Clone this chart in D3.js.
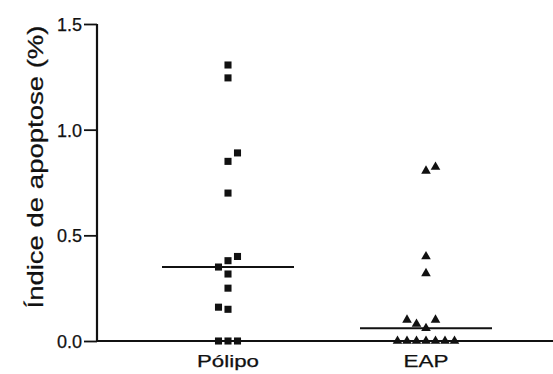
<!DOCTYPE html>
<html>
<head>
<meta charset="utf-8">
<script src="https://cdn.jsdelivr.net/npm/d3@7"></script>
<style>
  body { margin: 0; background: #fff; }
  text { font-family: "Liberation Sans", Arial, sans-serif; fill: #111; stroke: #111; stroke-width: 0.25px; }
</style>
</head>
<body>
<div id="chart"></div>
<script>
// data
const groups = ["Pólipo", "EAP"];
const poliposValues = [1.306, 1.245, 0.89, 0.85, 0.70, 0.40, 0.38, 0.35, 0.317, 0.25, 0.16, 0.15, 0, 0, 0];
const poliposSlots  = [0, 0, 1, 0, 0, 1, 0, -1, 0, 0, -1, 0, -1, 0, 1];
const eapValues = [0.823, 0.805, 0.40, 0.32, 0.10, 0.10, 0.08, 0.06, 0, 0, 0, 0, 0, 0, 0];
const eapSlots  = [1, 0, 0, 0, -2, 1, -1, 0, -3, -2, -1, 0, 1, 2, 3];
const medians = [0.35, 0.06];
const yTicks = [0, 0.5, 1.0, 1.5];

const width = 553, height = 374;
const margin = { top: 24, right: 0, bottom: 33, left: 97 };

const svg = d3.select('#chart').append('svg')
    .attr('width', width)
    .attr('height', height);

const y = d3.scaleLinear()
    .domain([0, 1.5])
    .range([height - margin.bottom, margin.top]);

const x = d3.scalePoint()
    .domain(groups)
    .range([228, 426]);

const slotGap = 9.5;

// Axes
const yAxis = svg.append('g')
    .attr('transform', `translate(${margin.left},0)`)
    .call(d3.axisLeft(y).tickValues(yTicks).tickFormat(d3.format('.1f')).tickSize(13).tickPadding(2));
yAxis.select('.domain').attr('stroke', '#111').attr('stroke-width', 2.2).attr('d', `M0,${y(1.5)}V${y(0)}`);
yAxis.selectAll('.tick line').attr('stroke', '#111').attr('stroke-width', 1.8);
yAxis.selectAll('.tick text')
    .style('font-size', '18px')
    .attr('dy', '0.36em')
    .style('font-family', '"Liberation Sans", Arial, sans-serif')
    .attr('fill', '#111');

svg.append('line')
    .attr('x1', margin.left).attr('x2', width)
    .attr('y1', y(0)).attr('y2', y(0))
    .attr('stroke', '#111').attr('stroke-width', 2.2);

// Category labels
svg.selectAll('.cat-label')
    .data(groups)
    .join('text')
    .attr('class', 'cat-label')
    .attr('x', d => x(d))
    .attr('y', 367)
    .attr('text-anchor', 'middle')
    .style('font-size', '17px')
    .attr('textLength', d => d === 'EAP' ? 45 : 62)
    .attr('lengthAdjust', 'spacingAndGlyphs')
    .text(d => d);

// Y title
svg.append('text')
    .attr('transform', `translate(43,${(24 + 310) / 2}) rotate(-90)`)
    .attr('text-anchor', 'middle')
    .style('font-size', '22px')
    .attr('textLength', 283)
    .attr('lengthAdjust', 'spacingAndGlyphs')
    .text('Índice de apoptose (%)');

// Medians
svg.selectAll('.median')
    .data(groups)
    .join('line')
    .attr('class', 'median')
    .attr('x1', d => x(d) - 66)
    .attr('x2', d => x(d) + 66)
    .attr('y1', (d, i) => y(medians[i]))
    .attr('y2', (d, i) => y(medians[i]))
    .attr('stroke', '#111')
    .attr('stroke-width', 2);

// Points
const polipo = poliposValues.map((v, i) => ({ v, s: poliposSlots[i] }));
const eap = eapValues.map((v, i) => ({ v, s: eapSlots[i] }));

svg.selectAll('.pt-polipo')
    .data(polipo)
    .join('path')
    .attr('class', 'pt-polipo')
    .attr('d', d3.symbol(d3.symbolSquare, 50))
    .attr('transform', d => `translate(${x('Pólipo') + d.s * slotGap},${y(d.v)})`)
    .attr('fill', '#111');

svg.selectAll('.pt-eap')
    .data(eap)
    .join('path')
    .attr('class', 'pt-eap')
    .attr('d', d3.symbol(d3.symbolTriangle, 40))
    .attr('transform', d => `translate(${x('EAP') + d.s * slotGap},${y(d.v)})`)
    .attr('fill', '#111');
</script>
</body>
</html>
